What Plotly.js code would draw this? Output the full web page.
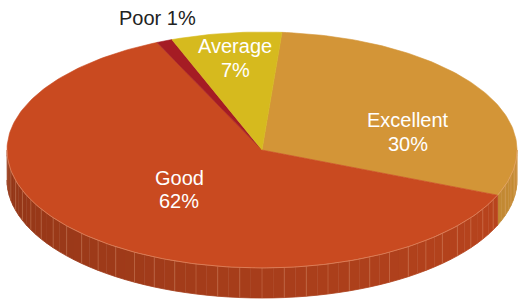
<!DOCTYPE html>
<html>
<head>
<meta charset="utf-8">
<script src="https://cdn.plot.ly/plotly-3.0.1.min.js"></script>
<style>html,body{margin:0;padding:0;background:#fff;}#chart{width:519px;height:301px;}</style>
</head>
<body>
<div id="chart"></div>
<script>
// ---- data ----
const labels = ['Excellent', 'Good', 'Poor', 'Average'];
const values = [30, 62, 1, 7];
const topColors = ['#D39537', '#C94A20', '#A51C24', '#D6BA1E'];
const textColors = ['#FFFFFF', '#FFFFFF', '#222222', '#FFFFFF'];

// ---- layout constants ----
const W = 519, H = 301;
const cx = 262, cy = 150, rx = 255, ry = 118, depth = 30;
const startAngle = 85.5; // degrees, slices run clockwise
// label placement [x, yLine1, yLine2, inline]
const labelPos = [[408, 120, 144, false], [179, 178, 201, false], [157, 18, null, true], [235, 46, 70, false]];

function hexToRgb(h){return [parseInt(h.slice(1,3),16),parseInt(h.slice(3,5),16),parseInt(h.slice(5,7),16)];}
function shade(h,f){const c=hexToRgb(h);return 'rgb('+c.map(v=>Math.round(Math.min(255,v*f))).join(',')+')';}
function pt(tDeg, dy){const t=tDeg*Math.PI/180;return [cx+rx*Math.cos(t), cy-ry*Math.sin(t)+(dy||0)];}

const total = values.reduce((a,b)=>a+b,0);
const slices = [];
let a = startAngle;
values.forEach((v,i)=>{const span=v/total*360;slices.push({i:i,a0:a-span,a1:a});a-=span;});

const traces = [];
const sideLinesX = [], sideLinesY = [];
// sides (front half only)
slices.forEach(s=>{
  for (const off of [0,360,-360]){
    const lo = Math.max(s.a0+off, 180), hi = Math.min(s.a1+off, 360);
    if (hi <= lo) continue;
    const nSeg = Math.max(1, Math.ceil((hi-lo)/2.5));
    for (let k=0;k<nSeg;k++){
      const t0 = lo+(hi-lo)*k/nSeg, t1 = lo+(hi-lo)*(k+1)/nSeg;
      const xs=[], ys=[];
      const steps=4;
      for(let j=0;j<=steps;j++){const p=pt(t0+(t1-t0)*j/steps,0);xs.push(p[0]);ys.push(p[1]);}
      for(let j=steps;j>=0;j--){const p=pt(t0+(t1-t0)*j/steps,depth);xs.push(p[0]);ys.push(p[1]);}
      const tm=(t0+t1)/2;
      const f = 0.72 + 0.2*(tm-180)/160;
      const col = shade(topColors[s.i], f);
      traces.push({type:'scatter',mode:'lines',x:xs,y:ys,fill:'toself',fillcolor:col,
        line:{width:0.8,color:col},hoverinfo:'skip',showlegend:false});
    }
    // faint vertical seams
    for (let t=lo+5; t<hi-1; t+=5){
      const p0=pt(t,0), p1=pt(t,depth);
      sideLinesX.push(p0[0],p1[0],null); sideLinesY.push(p0[1],p1[1],null);
    }
  }
});
traces.push({type:'scatter',mode:'lines',x:sideLinesX,y:sideLinesY,line:{width:0.7,color:'rgba(235,170,130,0.4)'},hoverinfo:'skip',showlegend:false});

// top faces
slices.forEach(s=>{
  const xs=[cx], ys=[cy];
  const n=Math.max(4,Math.ceil((s.a1-s.a0)/1));
  for(let j=0;j<=n;j++){const p=pt(s.a0+(s.a1-s.a0)*j/n,0);xs.push(p[0]);ys.push(p[1]);}
  xs.push(cx); ys.push(cy);
  traces.push({type:'scatter',mode:'lines',x:xs,y:ys,fill:'toself',fillcolor:topColors[s.i],
    line:{width:0.6,color:topColors[s.i]},hoverinfo:'skip',showlegend:false});
});

// rim highlight on front edge
const rimX=[], rimY=[];
for(let t=180;t<=360;t+=1){const p=pt(t,0);rimX.push(p[0]);rimY.push(p[1]);}
traces.push({type:'scatter',mode:'lines',x:rimX,y:rimY,line:{width:0.8,color:'rgba(240,175,140,0.6)'},hoverinfo:'skip',showlegend:false});

// labels
const annotations=[];
labels.forEach((lab,i)=>{
  const pct = Math.round(values[i]/total*100)+'%';
  const p = labelPos[i];
  const font = {family:'"Liberation Sans", Arial, sans-serif', size:20, color:textColors[i]};
  if (p[3]) {
    annotations.push({x:p[0],y:p[1],xref:'x',yref:'y',text:lab+' '+pct,showarrow:false,font:font,xanchor:'center',yanchor:'middle'});
  } else {
    annotations.push({x:p[0],y:p[1],xref:'x',yref:'y',text:lab,showarrow:false,font:font,xanchor:'center',yanchor:'middle'});
    annotations.push({x:p[0],y:p[2],xref:'x',yref:'y',text:pct,showarrow:false,font:font,xanchor:'center',yanchor:'middle'});
  }
});

const layout = {
  width:W, height:H, margin:{l:0,r:0,t:0,b:0},
  paper_bgcolor:'#ffffff', plot_bgcolor:'#ffffff',
  xaxis:{range:[0,W],visible:false,fixedrange:true},
  yaxis:{range:[H,0],visible:false,fixedrange:true},
  showlegend:false, annotations:annotations
};
Plotly.newPlot('chart', traces, layout, {staticPlot:true, displayModeBar:false});
</script>
</body>
</html>
